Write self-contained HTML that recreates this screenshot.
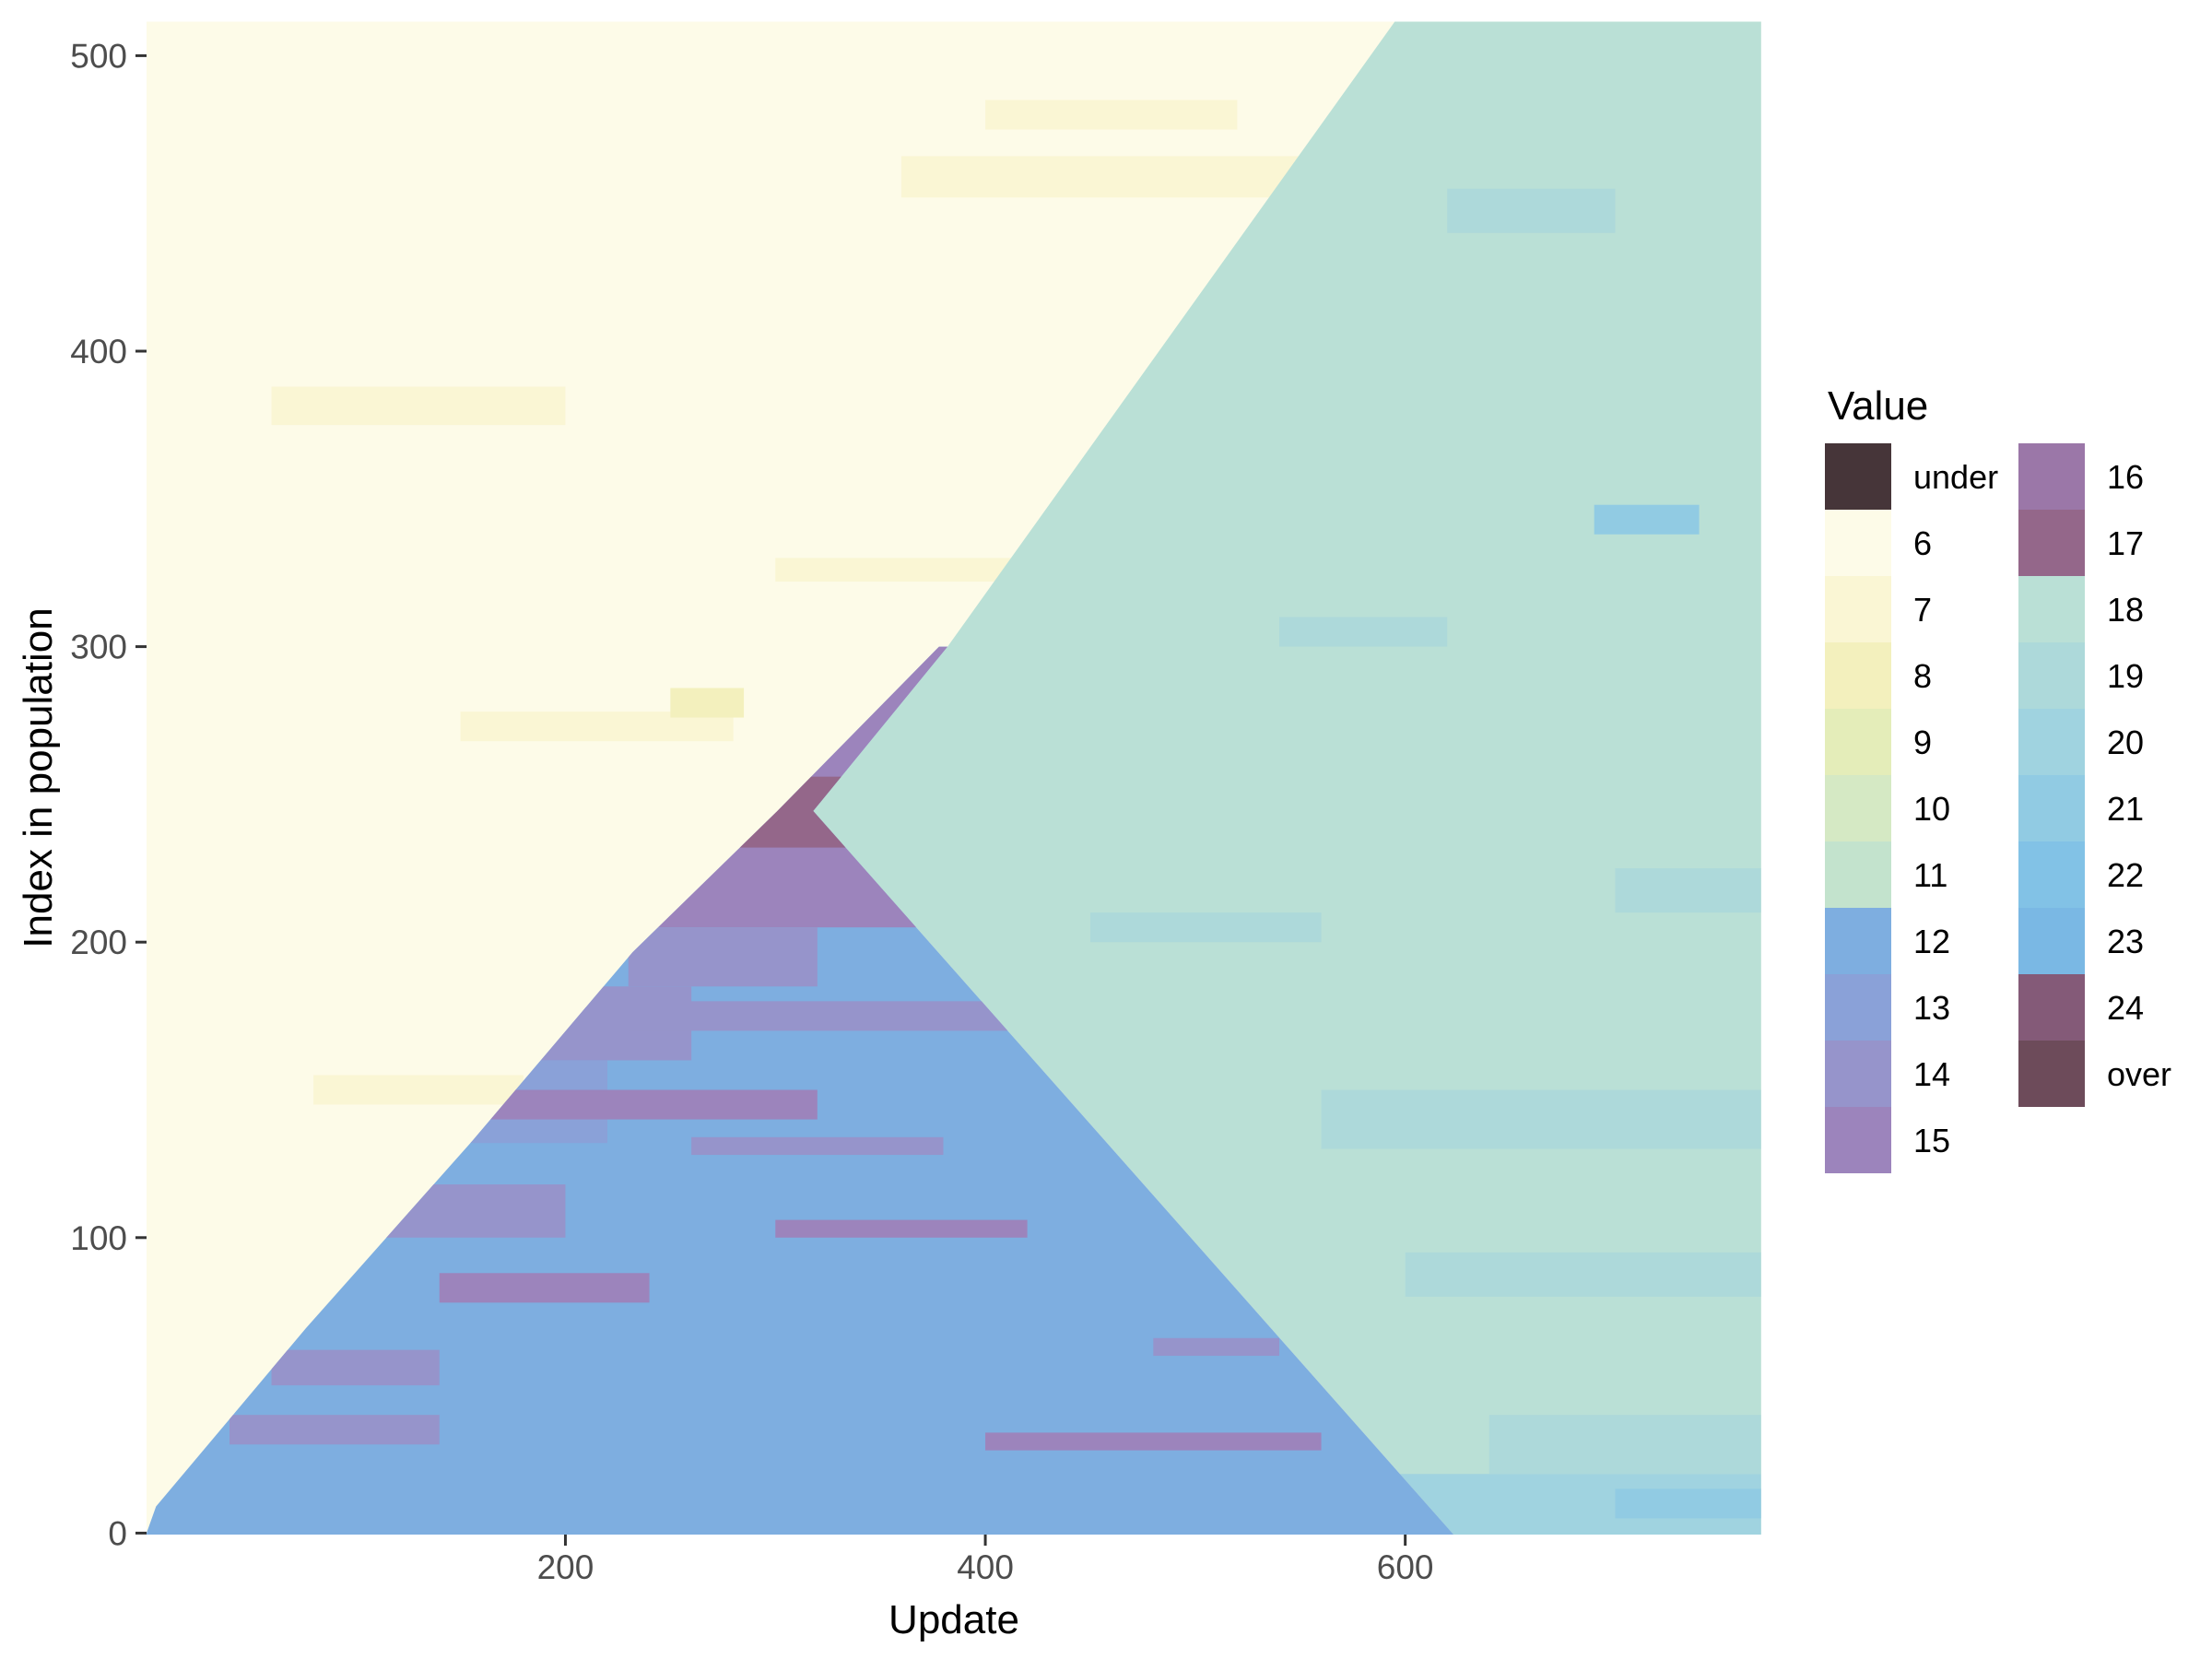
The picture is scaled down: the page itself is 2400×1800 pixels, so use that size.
<!DOCTYPE html>
<html><head><meta charset="utf-8"><style>
html,body{margin:0;padding:0;background:#fff;}
svg{display:block;font-family:"Liberation Sans",Arial,sans-serif;}
</style></head><body>
<svg id="chart" xmlns="http://www.w3.org/2000/svg" width="2400" height="1800" viewBox="0 0 2400 1800">
<defs>
<clipPath id="clipPlot"><rect x="159" y="23" width="1752" height="1642"/></clipPath>
<clipPath id="clipBlue"><polygon id="blueClipPoly" points=""/></clipPath>
<clipPath id="clipTeal"><polygon id="tealClipPoly" points=""/></clipPath>
</defs>
<g id="plot" clip-path="url(#clipPlot)"></g>
<g id="axes"></g>
<g id="legend"></g>
<text x="1035" y="1772" font-size="44" text-anchor="middle" fill="#000">Update</text>
<text transform="translate(56,844) rotate(-90)" font-size="44" text-anchor="middle" fill="#000">Index in population</text>
</svg>
<script>
// ---- data ----
const legendLabels = ["under","6","7","8","9","10","11","12","13","14","15","16","17","18","19","20","21","22","23","24","over"];
const legendColors = ["#463539","#fdfbe8","#faf6d4","#f3f0bd","#e4edb9","#d5e9c4","#c3e3cd","#7eaee0","#8aa1d8","#9694cb","#9c84bc","#9b77a8","#94678a","#bae0d6","#add9da","#a0d3e0","#91cbe3","#82c2e6","#7ab8e4","#845a78","#6d4b5a"];
const xTicks = [200,400,600];
const yTicks = [0,100,200,300,400,500];
// yellow/blue boundary (update at index)
const boundaryUpdate = [0.5, 5, 76.5, 156, 232, 301, 378];
const boundaryIndex  = [0, 9, 69.4, 133, 196.6, 244.4, 300];
const apexUpdate = 318, apexIndex = 244.4;
const baseUpdate = 623;
const tipUpdate = 382, tipIndex = 300;
const topUpdate = 595;
// patches: [u0,u1,i0,i1,value]
const yellowPatches = [[60,200,375,388,"7"],[360,560,452,466,"7"],[150,280,268,278,"7"],[80,180,145,155,"7"],[300,420,322,330,"7"],[250,285,276,286,"8"],[400,520,475,485,"7"]];
const bluePatches = [[200,390,205,300,"15"],[230,320,185,205,"14"],[280,340,232,256,"17"],[150,260,160,185,"14"],[120,220,132,160,"13"],[160,320,140,150,"15"],[230,420,170,180,"14"],[100,200,100,118,"14"],[140,240,78,88,"15"],[60,140,50,62,"14"],[40,140,30,40,"14"],[400,560,28,34,"15"],[260,380,128,134,"14"],[300,420,100,106,"15"],[480,540,60,66,"14"]];
const tealPatches = [[560,769.5,-0.5,20,"20"],[640,769.5,20,40,"19"],[560,769.5,130,150,"19"],[700,769.5,210,225,"19"],[690,740,338,348,"21"],[620,700,440,455,"19"],[540,620,300,310,"19"],[700,769.5,5,15,"21"],[450,560,200,210,"19"],[600,769.5,80,95,"19"]];

// ---- scales ----
const X0=159, XPU=2.278, Y0=1665, YPU=3.206;
function xs(u){return X0+(u-0.5)*XPU;}
function ys(i){return Y0-(i+0.5)*YPU;}
const NS="http://www.w3.org/2000/svg";
function colorOf(v){return legendColors[legendLabels.indexOf(v)];}
function mk(tag,attrs,parent){const e=document.createElementNS(NS,tag);for(const k in attrs)e.setAttribute(k,attrs[k]);parent.appendChild(e);return e;}
function pts(arr){return arr.map(p=>xs(p[0]).toFixed(1)+","+ys(p[1]).toFixed(1)).join(" ");}

const plot=document.getElementById("plot");
const bg=mk("rect",{x:xs(0.5),y:ys(511.5),width:xs(769.5)-xs(0.5),height:ys(-0.5)-ys(511.5),fill:colorOf("6")},plot);


yellowPatches.forEach(p=>{
  const r=mk("rect",{x:xs(p[0]),y:ys(p[3]),width:xs(p[1])-xs(p[0]),height:ys(p[2])-ys(p[3]),fill:colorOf(p[4])},plot);
  
  
});
const tealPoly=[[tipUpdate,tipIndex],[topUpdate,511.5],[769.5,511.5],[769.5,-0.5],[baseUpdate,-0.5],[apexUpdate,apexIndex]];
document.getElementById("tealClipPoly").setAttribute("points",pts(tealPoly));
const tp=mk("polygon",{points:pts(tealPoly),fill:colorOf("18")},plot);


const tg=mk("g",{"clip-path":"url(#clipTeal)"},plot);
tealPatches.forEach(p=>{
  const r=mk("rect",{x:xs(p[0]),y:ys(p[3]),width:xs(p[1])-xs(p[0]),height:ys(p[2])-ys(p[3]),fill:colorOf(p[4])},tg);
  
  
});
const bluePoly=[[0.5,-0.5],[baseUpdate,-0.5],[apexUpdate,apexIndex],[tipUpdate,tipIndex]];
for(let k=boundaryUpdate.length-1;k>=0;k--) bluePoly.push([boundaryUpdate[k],boundaryIndex[k]]);
bluePoly.push([0.5,-0.5]);
document.getElementById("blueClipPoly").setAttribute("points",pts(bluePoly));
const bp=mk("polygon",{points:pts(bluePoly),fill:colorOf("12")},plot);


const bgp=mk("g",{"clip-path":"url(#clipBlue)"},plot);
bluePatches.forEach(p=>{
  const r=mk("rect",{x:xs(p[0]),y:ys(p[3]),width:xs(p[1])-xs(p[0]),height:ys(p[2])-ys(p[3]),fill:colorOf(p[4])},bgp);
  
  
});

const axes=document.getElementById("axes");
xTicks.forEach(t=>{
  const l=mk("line",{x1:xs(t),x2:xs(t),y1:1665,y2:1677,stroke:"#333","stroke-width":3},axes);
  
  
  const tx=mk("text",{x:xs(t),y:1713,"font-size":37,"text-anchor":"middle",fill:"#4d4d4d"},axes);
  tx.textContent=t;
  
  
});
yTicks.forEach(t=>{
  const l=mk("line",{x1:147,x2:159,y1:ys(t),y2:ys(t),stroke:"#333","stroke-width":3},axes);
  
  
  const tx=mk("text",{x:138,y:ys(t)+13,"font-size":37,"text-anchor":"end",fill:"#4d4d4d"},axes);
  tx.textContent=t;
  
  
});

const lg=document.getElementById("legend");
const lt=mk("text",{x:1983,y:455,"font-size":44,fill:"#000"},lg);
lt.textContent="Value";


legendLabels.forEach((lab,k)=>{
  const col=k<11?0:1, row=k<11?k:k-11;
  const kx=col?2190:1980, ky=481+row*72;
  const r=mk("rect",{x:kx,y:ky,width:72,height:72,fill:legendColors[k]},lg);
  
  
  const t=mk("text",{x:kx+96,y:ky+49,"font-size":36,fill:"#000"},lg);
  t.textContent=lab;
  
  
});
</script>
</body></html>
